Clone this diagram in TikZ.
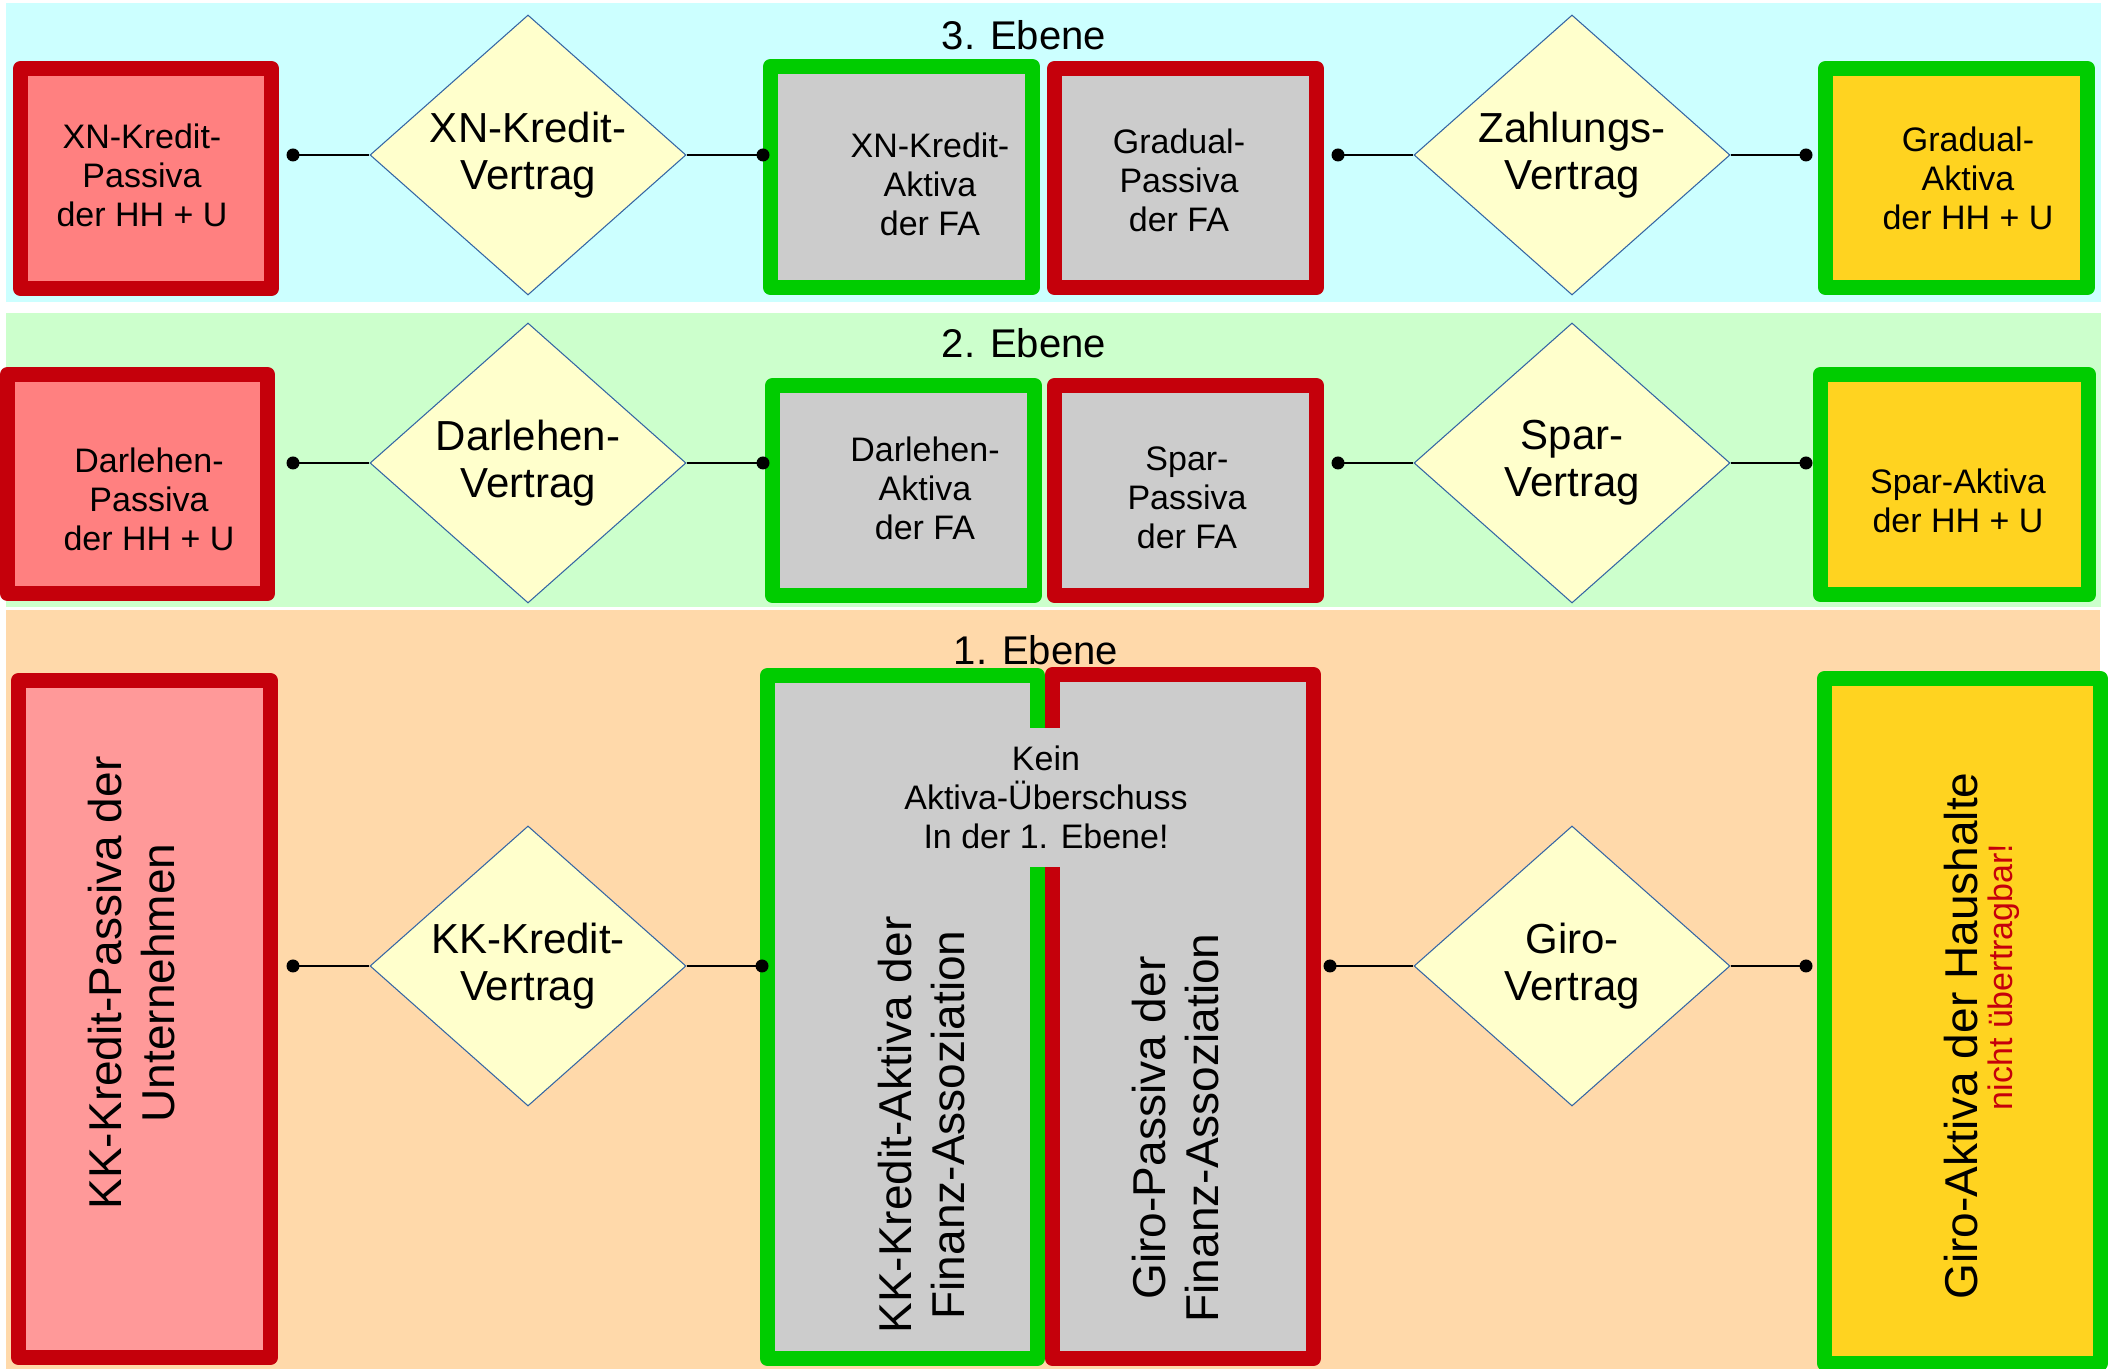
\documentclass[tikz,border=0pt]{standalone}
\usepackage{fontspec}
\setmainfont{Liberation Sans}
\usepackage{tikz}
\usetikzlibrary{shapes.geometric}
\definecolor{ebenedrei}{HTML}{CCFFFF}
\definecolor{ebenezwei}{HTML}{CCFFCC}
\definecolor{ebeneeins}{HTML}{FFD9AA}
\definecolor{passivrot}{HTML}{C5000B}
\definecolor{aktivgruen}{HTML}{00CC00}
\definecolor{lachs}{HTML}{FF8080}
\definecolor{lachshell}{HTML}{FF9999}
\definecolor{fagrau}{HTML}{CCCCCC}
\definecolor{hhgelb}{HTML}{FFD320}
\definecolor{vertraggelb}{HTML}{FFFFCC}
\definecolor{vertragrand}{HTML}{3465A4}
\tikzset{
	konto/.style={rectangle, line width=1.5mm, line join=round, inner sep=0pt},
	passiv/.style={konto, draw=passivrot},
	aktiv/.style={konto, draw=aktivgruen},
	vertrag/.style={diamond, draw=vertragrand, line width=0.3pt, fill=vertraggelb, aspect=1.13,
		minimum width=3.16cm, minimum height=2.8cm, inner sep=0pt, align=center,
		font=\fontsize{11.95}{13.4}\selectfont},
	txt/.style={align=center, inner sep=0pt, font=\fontsize{9.67}{11.1}\selectfont},
	hochtxt/.style={align=center, inner sep=0pt, rotate=90, font=\fontsize{13.1}{15.1}\selectfont},
	ebene/.style={inner sep=0pt, font=\fontsize{11.4}{13}\selectfont},
	verbinder/.style={line width=0.35pt}
}
\begin{document}
\begin{tikzpicture}
	\useasboundingbox (0,0) rectangle (21.09,-13.69);
	\fill[white] (0,0) rectangle (21.09,-13.69);
	\fill[ebenedrei] (0.06,-0.03) rectangle (21.01,-3.02);
	\fill[ebenezwei] (0.06,-3.13) rectangle (21.01,-6.07);
	\fill[ebeneeins] (0.06,-6.10) rectangle (21.00,-13.69);
	% 3. Ebene
	\node[ebene] (t3) at (10.24,-0.35) {3. Ebene};
	\node[passiv, fill=lachs, minimum width=2.51cm, minimum height=2.20cm] (lp3) at (1.46,-1.785) {};
	\node[aktiv, fill=fagrau, minimum width=2.62cm, minimum height=2.21cm] (ka3) at (9.015,-1.77) {};
	\node[passiv, fill=fagrau, minimum width=2.62cm, minimum height=2.19cm] (gp3) at (11.855,-1.78) {};
	\node[aktiv, fill=hhgelb, minimum width=2.62cm, minimum height=2.19cm] (ga3) at (19.565,-1.78) {};
	\node[txt] (lp3t) at (1.42,-1.75) {XN-Kredit-\\Passiva\\der HH + U};
	\node[txt] (ka3t) at (9.30,-1.84) {XN-Kredit-\\Aktiva\\der FA};
	\node[txt] (gp3t) at (11.79,-1.80) {Gradual-\\Passiva\\der FA};
	\node[txt] (ga3t) at (19.68,-1.78) {Gradual-\\Aktiva\\der HH + U};
	\node[vertrag] (dk3) at (5.28,-1.55) {XN-Kredit-\\Vertrag};
	\node[vertrag] (dz3) at (15.72,-1.55) {Zahlungs-\\Vertrag};
	\coordinate (p3a) at (2.93,-1.55);
	\coordinate (p3b) at (7.63,-1.55);
	\coordinate (p3c) at (13.38,-1.55);
	\coordinate (p3d) at (18.06,-1.55);
	% 2. Ebene
	\node[ebene] (t2) at (10.24,-3.43) {2. Ebene};
	\node[passiv, fill=lachs, minimum width=2.60cm, minimum height=2.19cm] (lp2) at (1.375,-4.84) {};
	\node[aktiv, fill=fagrau, minimum width=2.62cm, minimum height=2.10cm] (ka2) at (9.035,-4.905) {};
	\node[passiv, fill=fagrau, minimum width=2.62cm, minimum height=2.10cm] (sp2) at (11.855,-4.905) {};
	\node[aktiv, fill=hhgelb, minimum width=2.68cm, minimum height=2.20cm] (sa2) at (19.545,-4.845) {};
	\node[txt] (lp2t) at (1.49,-4.99) {Darlehen-\\Passiva\\der HH + U};
	\node[txt] (ka2t) at (9.25,-4.88) {Darlehen-\\Aktiva\\der FA};
	\node[txt] (sp2t) at (11.87,-4.98) {Spar-\\Passiva\\der FA};
	\node[txt] (sa2t) at (19.58,-5.01) {Spar-Aktiva\\der HH + U};
	\node[vertrag] (dd2) at (5.28,-4.63) {Darlehen-\\Vertrag};
	\node[vertrag] (ds2) at (15.72,-4.63) {Spar-\\Vertrag};
	\coordinate (p2a) at (2.93,-4.63);
	\coordinate (p2b) at (7.63,-4.63);
	\coordinate (p2c) at (13.38,-4.63);
	\coordinate (p2d) at (18.06,-4.63);
	% 1. Ebene
	\node[ebene] (t1) at (10.36,-6.50) {1. Ebene};
	\node[passiv, fill=lachshell, minimum width=2.52cm, minimum height=6.77cm] (lp1) at (1.445,-10.19) {};
	\node[aktiv, fill=fagrau, minimum width=2.70cm, minimum height=6.83cm] (ka1) at (9.025,-10.17) {};
	\node[passiv, fill=fagrau, minimum width=2.61cm, minimum height=6.84cm] (gp1) at (11.83,-10.165) {};
	\node[aktiv, fill=hhgelb, minimum width=2.76cm, minimum height=6.85cm] (ga1) at (19.625,-10.21) {};
	\node[txt, fill=fagrau, minimum height=1.39cm] (kein) at (10.46,-7.975) {Kein\\Aktiva-Überschuss\\In der 1. Ebene!};
	\node[hochtxt] (lp1t) at (1.315,-9.83) {KK-Kredit-Passiva der\\Unternehmen};
	\node[hochtxt] (ka1t) at (9.22,-11.25) {KK-Kredit-Aktiva der\\Finanz-Assoziation};
	\node[hochtxt] (gp1t) at (11.755,-11.28) {Giro-Passiva der\\Finanz-Assoziation};
	\node[hochtxt] (ga1t) at (19.61,-10.36) {Giro-Aktiva der Haushalte};
	\node[txt, rotate=90, text=passivrot] (ga1n) at (20.04,-9.77) {nicht übertragbar!};
	\node[vertrag] (dkk1) at (5.28,-9.66) {KK-Kredit-\\Vertrag};
	\node[vertrag] (dg1) at (15.72,-9.66) {Giro-\\Vertrag};
	\coordinate (p1a) at (2.93,-9.66);
	\coordinate (p1b) at (7.62,-9.66);
	\coordinate (p1c) at (13.30,-9.66);
	\coordinate (p1d) at (18.06,-9.66);
	% Verbindungen
	\draw[verbinder] (p3a) -- (dk3);
	\draw[verbinder] (dk3) -- (p3b);
	\draw[verbinder] (p3c) -- (dz3);
	\draw[verbinder] (dz3) -- (p3d);
	\draw[verbinder] (p2a) -- (dd2);
	\draw[verbinder] (dd2) -- (p2b);
	\draw[verbinder] (p2c) -- (ds2);
	\draw[verbinder] (ds2) -- (p2d);
	\draw[verbinder] (p1a) -- (dkk1);
	\draw[verbinder] (dkk1) -- (p1b);
	\draw[verbinder] (p1c) -- (dg1);
	\draw[verbinder] (dg1) -- (p1d);
	\foreach \p in {p3a,p3b,p3c,p3d,p2a,p2b,p2c,p2d,p1a,p1b,p1c,p1d}
		\fill (\p) circle (0.65mm);
\end{tikzpicture}
\end{document}
